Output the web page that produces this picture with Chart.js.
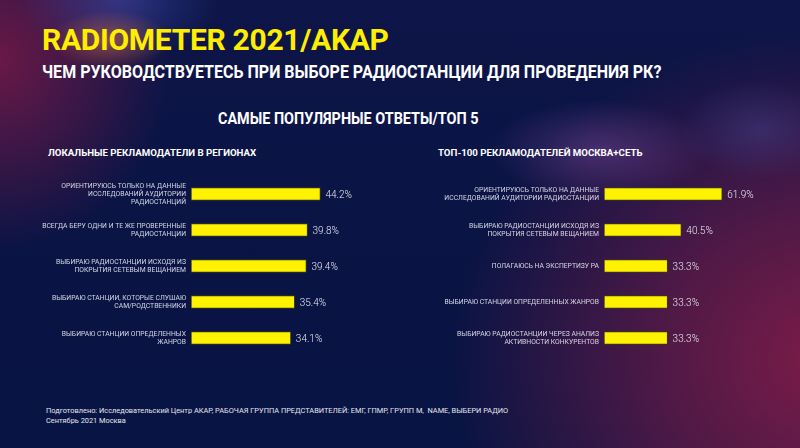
<!DOCTYPE html>
<html>
<head>
<meta charset="utf-8">
<script src="https://cdn.jsdelivr.net/npm/chart.js@4"></script>
<style>
  html, body { margin: 0; padding: 0; }
  body {
    width: 800px; height: 448px; overflow: hidden; position: relative;
    font-family: Roboto, "Noto Sans", sans-serif;
    background:
      radial-gradient(ellipse 60px 30px at 110px 40px, rgba(255,140,60,0.4), rgba(255,140,60,0) 100%),
      radial-gradient(ellipse 100px 60px at 120px 0px, rgba(70,90,200,0.45), rgba(70,90,200,0) 100%),
      radial-gradient(ellipse 110px 50px at 600px 150px, rgba(120,70,150,0.5), rgba(120,70,150,0) 100%),
      radial-gradient(ellipse 80px 50px at 760px 130px, rgba(80,90,180,0.3), rgba(80,90,180,0) 100%),
      radial-gradient(ellipse 170px 190px at 0px 60px, rgba(115,25,70,0.9), rgba(115,25,70,0) 100%),
      radial-gradient(ellipse 380px 330px at 830px 360px, rgba(125,28,72,1), rgba(125,28,72,0.6) 45%, rgba(125,28,72,0) 100%),
      linear-gradient(180deg, #0e1548 0px, #0a1445 200px, #081443 448px);
  }
  .t { position: absolute; white-space: nowrap; }
  #title { left: 42px; top: 22px; color: #ffee00; font-weight: 700; font-size: 30px; letter-spacing: -0.3px; }
  #sub { left: 42px; top: 61px; color: #fff; font-weight: 700; font-size: 18px; transform: scaleX(0.89); transform-origin: left; }
  #top5 { left: 218px; top: 109px; color: #fff; font-weight: 700; font-size: 16px; transform: scaleX(0.9); transform-origin: left; }
  .ct { top: 147px; color: #fff; font-weight: 700; font-size: 9.7px; }
  #foot { left: 46px; top: 406px; color: #e6e6f0; font-size: 7.4px; line-height: 10px; }
  .box { position: absolute; top: 176px; height: 180px; width: 400px; }
</style>
</head>
<body>
<div id="title" class="t">RADIOMETER 2021/AKAP</div>
<div id="sub" class="t">ЧЕМ РУКОВОДСТВУЕТЕСЬ ПРИ ВЫБОРЕ РАДИОСТАНЦИИ ДЛЯ ПРОВЕДЕНИЯ РК?</div>
<div id="top5" class="t">САМЫЕ ПОПУЛЯРНЫЕ ОТВЕТЫ/ТОП 5</div>
<div class="t ct" style="left:48px">ЛОКАЛЬНЫЕ РЕКЛАМОДАТЕЛИ В РЕГИОНАХ</div>
<div class="t ct" style="left:438px">ТОП-100 РЕКЛАМОДАТЕЛЕЙ МОСКВА+СЕТЬ</div>
<div class="box" style="left:0"><canvas id="leftChart"></canvas></div>
<div class="box" style="left:400px"><canvas id="rightChart"></canvas></div>
<div id="foot" class="t">Подготовлено: Исследовательский Центр АКАР, РАБОЧАЯ ГРУППА ПРЕДСТАВИТЕЛЕЙ: ЕМГ, ГПМР, ГРУПП М,&nbsp; NAME, ВЫБЕРИ РАДИО<br>Сентябрь 2021 Москва</div>
<script>
const leftLabels = [
  ["ОРИЕНТИРУЮСЬ ТОЛЬКО НА ДАННЫЕ", "ИССЛЕДОВАНИЙ АУДИТОРИИ", "РАДИОСТАНЦИЙ"],
  ["ВСЕГДА БЕРУ ОДНИ И ТЕ ЖЕ ПРОВЕРЕННЫЕ", "РАДИОСТАНЦИИ"],
  ["ВЫБИРАЮ РАДИОСТАНЦИИ ИСХОДЯ ИЗ", "ПОКРЫТИЯ СЕТЕВЫМ ВЕЩАНИЕМ"],
  ["ВЫБИРАЮ СТАНЦИИ, КОТОРЫЕ СЛУШАЮ", "САМ/РОДСТВЕННИКИ"],
  ["ВЫБИРАЮ СТАНЦИИ ОПРЕДЕЛЕННЫХ", "ЖАНРОВ"]
];
const leftValues = [44.2, 39.8, 39.4, 35.4, 34.1];

const rightLabels = [
  ["ОРИЕНТИРУЮСЬ ТОЛЬКО НА ДАННЫЕ", "ИССЛЕДОВАНИЙ АУДИТОРИИ РАДИОСТАНЦИИ"],
  ["ВЫБИРАЮ РАДИОСТАНЦИИ ИСХОДЯ ИЗ", "ПОКРЫТИЯ СЕТЕВЫМ ВЕЩАНИЕМ"],
  "ПОЛАГАЮСЬ НА ЭКСПЕРТИЗУ РА",
  "ВЫБИРАЮ СТАНЦИИ ОПРЕДЕЛЕННЫХ ЖАНРОВ",
  ["ВЫБИРАЮ РАДИОСТАНЦИИ ЧЕРЕЗ АНАЛИЗ", "АКТИВНОСТИ КОНКУРЕНТОВ"]
];
const rightValues = [61.9, 40.5, 33.3, 33.3, 33.3];

// value text after each bar
const valueLabels = {
  id: "valueLabels",
  afterDatasetsDraw(chart) {
    const c = chart.ctx;
    const meta = chart.getDatasetMeta(0);
    const vals = chart.data.datasets[0].data;
    c.save();
    c.font = "300 10px Roboto";
    c.fillStyle = "#e8e8f2";
    c.textBaseline = "middle";
    meta.data.forEach((bar, i) => {
      c.fillText(vals[i].toFixed(1) + "%", bar.x + 5, bar.y + 1);
    });
    c.restore();
  }
};

function makeChart(id, labels, values, axisWidth, xMax, padRight) {
  return new Chart(document.getElementById(id), {
    type: "bar",
    data: {
      labels: labels,
      datasets: [{
        data: values,
        backgroundColor: "#fff200",
        borderColor: "#3a3a20",
        borderWidth: 1,
        borderSkipped: false,
        barThickness: 13
      }]
    },
    options: {
      indexAxis: "y",
      responsive: true,
      maintainAspectRatio: false,
      animation: false,
      layout: { padding: { left: 0, right: padRight, top: 0, bottom: 0 } },
      plugins: { legend: { display: false }, tooltip: { enabled: false } },
      scales: {
        x: { display: false, min: 0, max: xMax },
        y: {
          grid: { display: false, drawTicks: false },
          border: { display: false },
          ticks: {
            color: "#d6d6e6",
            font: { family: "Roboto", size: 6.8 },
            padding: 5
          },
          afterFit(scale) {
            scale.width = axisWidth;
            scale.paddingTop = 0;
            scale.paddingBottom = 0;
          }
        }
      }
    },
    plugins: [valueLabels]
  });
}

makeChart("leftChart", leftLabels, leftValues, 191, 70, 4);
makeChart("rightChart", rightLabels, rightValues, 204, 100, 5);
</script>
</body>
</html>
